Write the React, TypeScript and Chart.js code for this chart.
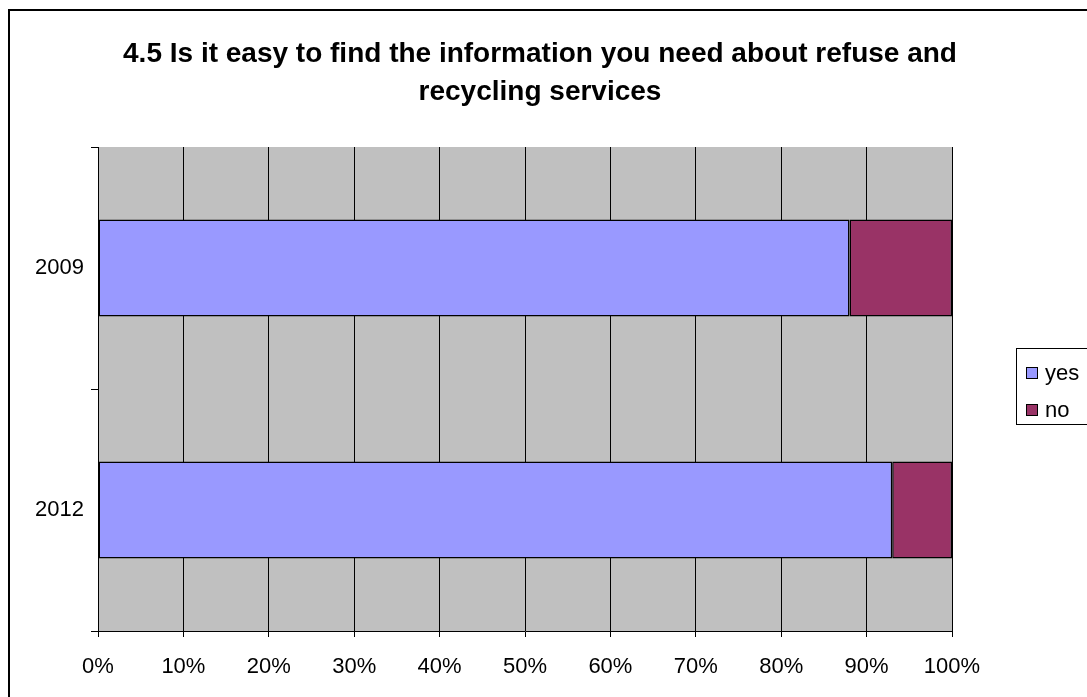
import React, { useEffect, useRef } from "react";
import { Chart, registerables } from "chart.js";

Chart.register(...registerables);

const TITLE_LINES = ["4.5 Is it easy to find the information you need about refuse and", "recycling services"];
const CATEGORIES = ["2009", "2012"];
const YES_VALUES = [88, 93];
const NO_VALUES = [12, 7];
const SERIES_NAMES = ["yes", "no"];
const SERIES_COLORS = ["#9999FF", "#993366"];
const X_TICKS_MAX = 100;
const X_STEP = 10;

const FONT = "'Liberation Sans', Arial, sans-serif";

const decor = {
  id: "decor",
  beforeDraw(chart: any) {
    const { ctx, chartArea: a } = chart;
    ctx.save();
    ctx.fillStyle = "#ffffff";
    ctx.fillRect(0, 0, chart.width, chart.height);
    ctx.fillStyle = "#C0C0C0";
    ctx.fillRect(a.left, a.top, a.right - a.left, a.bottom - a.top);
    ctx.restore();
  },
  afterDraw(chart: any) {
    const { ctx } = chart;
    ctx.save();
    // outer frame
    ctx.strokeStyle = "#000";
    ctx.lineWidth = 2;
    ctx.beginPath();
    ctx.moveTo(9, chart.height);
    ctx.lineTo(9, 10);
    ctx.lineTo(chart.width, 10);
    ctx.stroke();
    // title
    ctx.fillStyle = "#000";
    ctx.font = `bold 28px ${FONT}`;
    ctx.textAlign = "center";
    ctx.textBaseline = "alphabetic";
    ctx.fillText(TITLE_LINES[0], 540, 62);
    ctx.fillText(TITLE_LINES[1], 540, 100);
    // legend
    ctx.lineWidth = 1;
    ctx.strokeStyle = "#000";
    ctx.strokeRect(1016.5, 348.5, 100, 76);
    ctx.font = `22px ${FONT}`;
    ctx.textAlign = "left";
    ctx.textBaseline = "middle";
    const ys = [373, 410];
    SERIES_NAMES.forEach((n, i) => {
      ctx.fillStyle = SERIES_COLORS[i];
      ctx.fillRect(1026, ys[i] - 6, 12, 12);
      ctx.strokeRect(1026.5, ys[i] - 5.5, 11, 11);
      ctx.fillStyle = "#000";
      ctx.fillText(n, 1045, ys[i] + 1);
    });
    ctx.restore();
  },
};

export default function App() {
  const ref = useRef<HTMLCanvasElement | null>(null);
  useEffect(() => {
    document.body.style.margin = "0";
    const chart = new Chart(ref.current as HTMLCanvasElement, {
      type: "bar",
      data: {
        labels: CATEGORIES,
        datasets: [
          {
            label: SERIES_NAMES[0],
            data: YES_VALUES,
            backgroundColor: SERIES_COLORS[0],
            borderColor: "#000",
            borderWidth: 1.5,
            borderSkipped: false,
            categoryPercentage: 1,
            barPercentage: 0.4,
          },
          {
            label: SERIES_NAMES[1],
            data: NO_VALUES,
            backgroundColor: SERIES_COLORS[1],
            borderColor: "#000",
            borderWidth: 1.5,
            borderSkipped: false,
            categoryPercentage: 1,
            barPercentage: 0.4,
          },
        ],
      },
      options: {
        indexAxis: "y",
        animation: false,
        responsive: false,
        devicePixelRatio: 1,
        layout: { padding: { top: 147, right: 135, left: 0, bottom: 0 } },
        plugins: { legend: { display: false }, title: { display: false }, tooltip: { enabled: false } },
        scales: {
          x: {
            stacked: true,
            min: 0,
            max: X_TICKS_MAX,
            ticks: {
              stepSize: X_STEP,
              color: "#000",
              font: { family: FONT, size: 22 },
              padding: 17,
              callback: (v: any) => v + "%",
            },
            grid: { color: "#000", lineWidth: 1, drawTicks: true, tickLength: 6 },
            border: { display: true, color: "#000", width: 1 },
            afterFit: (s: any) => { s.height = 66; },
          },
          y: {
            stacked: true,
            ticks: { color: "#000", font: { family: FONT, size: 22 }, padding: 7 },
            grid: { offset: true, drawOnChartArea: false, drawTicks: true, tickLength: 7, color: "#000" },
            border: { display: true, color: "#000", width: 1 },
            afterFit: (s: any) => { s.width = 98; },
          },
        },
      },
      plugins: [decor],
    });
    return () => chart.destroy();
  }, []);
  return <canvas ref={ref} width={1087} height={697} style={{ display: "block" }} />;
}
